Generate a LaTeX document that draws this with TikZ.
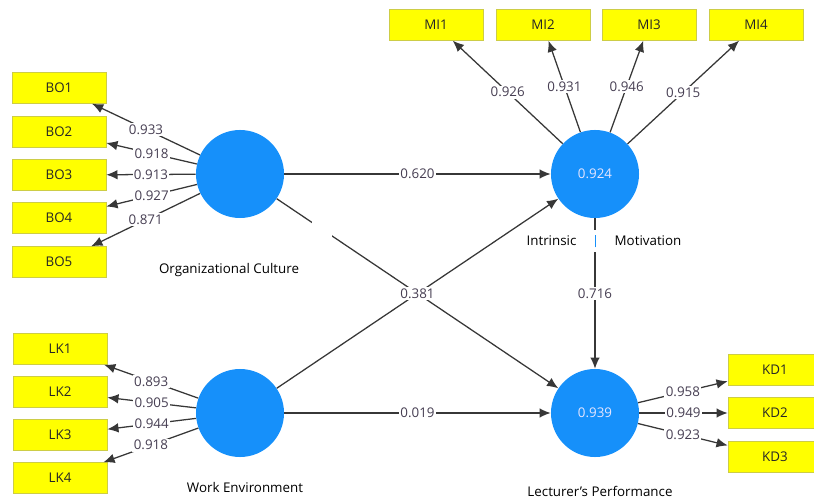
\documentclass[tikz,border=0pt]{standalone}
\usepackage{fontspec}
\setmainfont{Open Sans}
\usepackage{tikz}
\usetikzlibrary{shapes, arrows.meta, positioning}
\usepackage{xcolor}
\definecolor{latentblue}{RGB}{22,144,250}
\definecolor{itemyellow}{RGB}{255,255,0}
\definecolor{itemedge}{RGB}{205,205,70}
\definecolor{pathgray}{RGB}{55,55,55}
\definecolor{coefgray}{RGB}{70,62,82}

\begin{document}
\begin{tikzpicture}[x=0.025cm, y=-0.025cm,
    font=\fontsize{9.5}{11}\selectfont,
    indicator/.style={rectangle, draw=itemedge, fill=itemyellow, minimum width=2.35cm, minimum height=0.77cm, inner sep=0pt, text=black!85},
    latent/.style={circle, fill=latentblue, minimum size=2.2cm, inner sep=0pt, text=white!90!blue},
    path/.style={-{Latex[length=2.8mm, width=2.4mm]}, draw=pathgray, line width=0.9pt},
    coef/.style={fill=white, inner sep=1pt, text=coefgray},
    caption/.style={text=black}]

\clip (0,0) rectangle (814,498);

% Latent variables
\node [latent] (oc) at (240,174) {};
\node [latent] (we) at (240,413) {};
\node [latent] (im) at (595,174) {0.924};
\node [latent] (lp) at (595,413) {0.939};

% Indicators
\node [indicator] (bo1) at (59,88) {BO1};
\node [indicator] (bo2) at (59,132) {BO2};
\node [indicator] (bo3) at (59,175) {BO3};
\node [indicator] (bo4) at (59,218) {BO4};
\node [indicator] (bo5) at (59,262) {BO5};

\node [indicator] (lk1) at (60,349) {LK1};
\node [indicator] (lk2) at (60,392) {LK2};
\node [indicator] (lk3) at (60,435) {LK3};
\node [indicator] (lk4) at (60,478) {LK4};

\node [indicator] (mi1) at (436,25) {MI1};
\node [indicator] (mi2) at (543,25) {MI2};
\node [indicator] (mi3) at (649,25) {MI3};
\node [indicator] (mi4) at (756,25) {MI4};

\node [indicator] (kd1) at (775,370) {KD1};
\node [indicator] (kd2) at (775,413) {KD2};
\node [indicator] (kd3) at (775,457) {KD3};

% Outer loadings
\draw [path] (oc) -- node[coef] {0.933} (bo1);
\draw [path] (oc) -- node[coef] {0.918} (bo2);
\draw [path] (oc) -- node[coef] {0.913} (bo3);
\draw [path] (oc) -- node[coef] {0.927} (bo4);
\draw [path] (oc) -- node[coef] {0.871} (bo5);

\draw [path] (we) -- node[coef] {0.893} (lk1);
\draw [path] (we) -- node[coef] {0.905} (lk2);
\draw [path] (we) -- node[coef] {0.944} (lk3);
\draw [path] (we) -- node[coef] {0.918} (lk4);

\draw [path] (im) -- node[coef] {0.926} (mi1);
\draw [path] (im) -- node[coef] {0.931} (mi2);
\draw [path] (im) -- node[coef] {0.946} (mi3);
\draw [path] (im) -- node[coef] {0.915} (mi4);

\draw [path] (lp) -- node[coef] {0.958} (kd1);
\draw [path] (lp) -- node[coef] {0.949} (kd2);
\draw [path] (lp) -- node[coef] {0.923} (kd3);

% Inner paths
\draw [path] (oc) -- node[coef] {0.620} (im);
\draw [path] (we) -- node[coef] {0.019} (lp);
\draw [path] (oc) -- node[pos=0.16, fill=white, minimum size=0.5cm, inner sep=0pt] {} (lp);
\draw [path] (we) -- node[coef] {0.381} (im);
\draw [path] (im) -- node[coef] {0.716} (lp);

% Construct names
\node [caption] (ocname) at (229,270) {Organizational Culture};
\node [caption] (wename) at (245,487) {Work Environment};
\node [caption, fill=white, inner ysep=3pt] (imname) at (604,241) {Intrinsic\hspace{13pt}\textcolor{latentblue}{\rule[-1pt]{1.2pt}{9pt}}\hspace{13pt}Motivation};
\node [caption] (lpname) at (600,491) {Lecturer’s Performance};

\end{tikzpicture}
\end{document}
